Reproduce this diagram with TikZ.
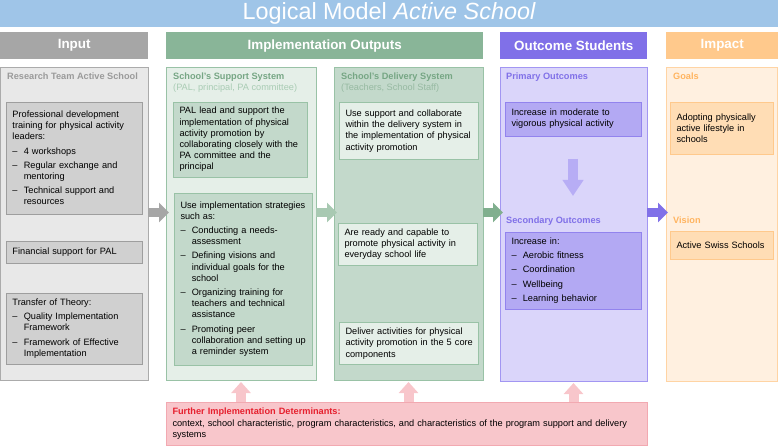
\documentclass[tikz,border=0pt]{standalone}
\usepackage{fontspec}
\setmainfont{Liberation Sans}
\usetikzlibrary{arrows.meta,positioning}
\setlength{\parindent}{0pt}
\definecolor{titleblue}{HTML}{9FC5E8}
\definecolor{grayhd}{HTML}{A6A6A6}
\definecolor{graybg}{HTML}{E8E8E8}
\definecolor{grayln}{HTML}{ABABAB}
\definecolor{graybox}{HTML}{D0D0D0}
\definecolor{grayboxln}{HTML}{9E9E9E}
\definecolor{graytx}{HTML}{9A9A9A}
\definecolor{greenhd}{HTML}{89B598}
\definecolor{greenbg}{HTML}{E5EFE8}
\definecolor{greenmid}{HTML}{C3D9CB}
\definecolor{greenln}{HTML}{99C2A6}
\definecolor{greentx}{HTML}{76A684}
\definecolor{greenlt}{HTML}{A9CCB4}
\definecolor{greenlt2}{HTML}{97BAA2}
\definecolor{greenarr}{HTML}{A8C9B2}
\definecolor{greendk}{HTML}{80AF8E}
\definecolor{purphd}{HTML}{8070E8}
\definecolor{purpbg}{HTML}{DAD5FA}
\definecolor{purpln}{HTML}{A296F2}
\definecolor{purpbox}{HTML}{B3A9F3}
\definecolor{purpboxln}{HTML}{9283EE}
\definecolor{purparr}{HTML}{B7ADF5}
\definecolor{orghd}{HTML}{FFC98C}
\definecolor{orgbg}{HTML}{FFF0E0}
\definecolor{orgln}{HTML}{FFD4A4}
\definecolor{orgbox}{HTML}{FFDDB5}
\definecolor{orgtx}{HTML}{FFB45F}
\definecolor{pinkbg}{HTML}{F8C6CB}
\definecolor{pinkln}{HTML}{F2A9B1}
\definecolor{redtx}{HTML}{E6202E}
\newcommand\dashitem{\par\vspace{3pt}\leftskip=11.3pt\noindent\llap{\makebox[11.3pt][l]{–}}}

\begin{document}
\begin{tikzpicture}[x=1pt, y=-1pt, font=\fontsize{9.2}{11.2}\selectfont,
panel/.style = {draw, anchor=north west, inner sep=0pt, outer sep=0pt, line width=0.8pt},
box/.style = {draw, anchor=north west, inner xsep=6.5pt, inner ysep=3pt, outer sep=0pt, line width=0.8pt,
    execute at begin node={\rightskip=0pt plus 1fil minus 12pt\relax}},
hdr/.style = {anchor=north west, minimum height=27pt, inner sep=0pt, text=white, font=\fontsize{13.4}{16}\selectfont\bfseries},
sub/.style = {anchor=base west, inner sep=0pt, font=\fontsize{9.2}{11}\selectfont\bfseries},
bigarrow/.style = {line width=9pt, -{Triangle[width=19pt,length=10pt]}}]
    \useasboundingbox (0,0) rectangle (778,446);
    \node[anchor=north west, fill=titleblue, minimum width=778pt, minimum height=27pt, inner sep=0pt, text=white, font=\fontsize{23.4}{26}\selectfont] (0) at (0,0) {Logical Model \textit{Active School}};

    \node[hdr, fill=grayhd, minimum width=148pt] (1) at (0,32) {Input};
    \node[hdr, fill=greenhd, minimum width=317pt] (2) at (166,32) {Implementation Outputs};
    \node[hdr, fill=purphd, minimum width=147pt] (3) at (500,32) {Outcome Students};
    \node[hdr, fill=orghd, minimum width=112pt] (4) at (666,32) {Impact};

    \node[panel, fill=graybg, draw=grayln, minimum width=148pt, minimum height=313pt] (5) at (0,67) {};
    \node[panel, fill=greenbg, draw=greenln, minimum width=150pt, minimum height=313pt] (6) at (166,67) {};
    \node[panel, fill=greenmid, draw=greenln, minimum width=149pt, minimum height=313pt] (7) at (334,67) {};
    \node[panel, fill=purpbg, draw=purpln, minimum width=147pt, minimum height=314pt] (8) at (500,67) {};
    \node[panel, fill=orgbg, draw=orgln, minimum width=111.5pt, minimum height=314pt] (9) at (666,67) {};

    \node[sub, text=graytx] (11) at (7,79.3) {Research Team Active School};
    \node[sub, text=greentx] (12) at (173,79.3) {School's Support System};
    \node[sub, text=greenlt, font=\fontsize{9.2}{11}\selectfont] (13) at (173,90.6) {(PAL, principal, PA committee)};
    \node[sub, text=greentx] (14) at (341,79.3) {School's Delivery System};
    \node[sub, text=greenlt2, font=\fontsize{9.2}{11}\selectfont] (15) at (341,90.6) {(Teachers, School Staff)};
    \node[sub, text=purphd] (16) at (506,79.3) {Primary Outcomes};
    \node[sub, text=purphd] (17) at (506,223.3) {Secondary Outcomes};
    \node[sub, text=orgtx] (18) at (673,79.3) {Goals};
    \node[sub, text=orgtx] (19) at (673,223.3) {Vision};

    \node[box, fill=graybox, draw=grayboxln, text width=123pt, minimum height=112pt] (20) at (6,102) {Professional development\\ training for physical activity\\ leaders:
        \dashitem 4 workshops
        \dashitem Regular exchange and\newline mentoring
        \dashitem Technical support and\newline resources\par};
    \node[box, fill=graybox, draw=grayboxln, text width=123pt, minimum height=22pt] (21) at (6,241) {Financial support for PAL};
    \node[box, fill=graybox, draw=grayboxln, text width=123pt, minimum height=71pt] (22) at (6,293) {Transfer of Theory:
        \dashitem Quality Implementation\newline Framework
        \dashitem Framework of Effective\newline Implementation\par};

    \node[box, fill=greenmid, draw=greenln, text width=121pt, minimum height=75pt] (23) at (173,102) {PAL lead and support the\\ implementation of physical\\ activity promotion by\\ collaborating closely with the\\ PA committee and the\\ principal};
    \node[box, fill=greenmid, draw=greenln, text width=125pt, minimum height=172pt] (24) at (174,193) {Use implementation strategies\\ such as:
        \dashitem Conducting a needs-\newline assessment
        \dashitem Defining visions and\newline individual goals for the\newline school
        \dashitem Organizing training for\newline teachers and technical\newline assistance
        \dashitem Promoting peer\newline collaboration and setting up\newline a reminder system\par};

    \node[box, fill=greenbg, draw=greenln, text width=126pt, minimum height=57pt] (25) at (339,102.5) {Use support and collaborate\\ within the delivery system in\\ the implementation of physical\\ activity promotion};
    \node[box, fill=greenbg, draw=greenln, text width=126pt, minimum height=42pt] (26) at (338,223) {Are ready and capable to\\ promote physical activity in\\ everyday school life};
    \node[box, fill=greenbg, draw=greenln, text width=126pt, minimum height=42pt] (27) at (339,322.5) {Deliver activities for physical\\ activity promotion in the 5 core\\ components};

    \node[box, fill=purpbox, draw=purpboxln, text width=123pt, minimum height=34pt] (28) at (505,102) {Increase in moderate to\\ vigorous physical activity};
    \node[box, fill=purpbox, draw=purpboxln, text width=123pt, minimum height=77pt] (29) at (505,232) {Increase in:
        \dashitem Aerobic fitness
        \dashitem Coordination
        \dashitem Wellbeing
        \dashitem Learning behavior\par};

    \node[box, fill=orgbox, draw=orghd, text width=90pt, minimum height=52pt] (30) at (670,102) {Adopting physically\\ active lifestyle in\\ schools};
    \node[box, fill=orgbox, draw=orghd, text width=90pt, minimum height=28pt] (31) at (670,231) {Active Swiss Schools};

    \node[box, fill=pinkbg, draw=pinkln, text width=468pt, minimum height=43.6pt] (10) at (166,402) {\textcolor{redtx}{\textbf{Further Implementation Determinants:}}\\ context, school characteristic, program characteristics, and characteristics of the program support and delivery\\ systems};

    \coordinate (m) at (0,212.5);
    \draw[bigarrow, grayhd, shorten >=-3pt] (5.east |- m) -- (6.west |- m);
    \draw[bigarrow, greenarr, shorten >=-3pt] (6.east |- m) -- (7.west |- m);
    \draw[bigarrow, greendk, shorten >=-3pt] (7.east |- m) -- (8.west |- m);
    \draw[bigarrow, purphd, shorten >=-2pt] (8.east |- m) -- (9.west |- m);

    \draw[bigarrow, purparr, line width=10pt, -{Triangle[width=20pt,length=16pt]}, shorten <=23pt, shorten >=36pt] (28.south) -- (29.north);

    \draw[bigarrow, pinkbg, line width=10pt, -{Triangle[width=19pt,length=11pt]}, shorten >=2pt] (10.north -| 6.south) -- (6.south);
    \draw[bigarrow, pinkbg, line width=10pt, -{Triangle[width=19pt,length=11pt]}, shorten >=2pt] (10.north -| 7.south) -- (7.south);
    \draw[bigarrow, pinkbg, line width=10pt, -{Triangle[width=19pt,length=11pt]}, shorten >=2pt] (10.north -| 8.south) -- (8.south);
\end{tikzpicture}
\end{document}
